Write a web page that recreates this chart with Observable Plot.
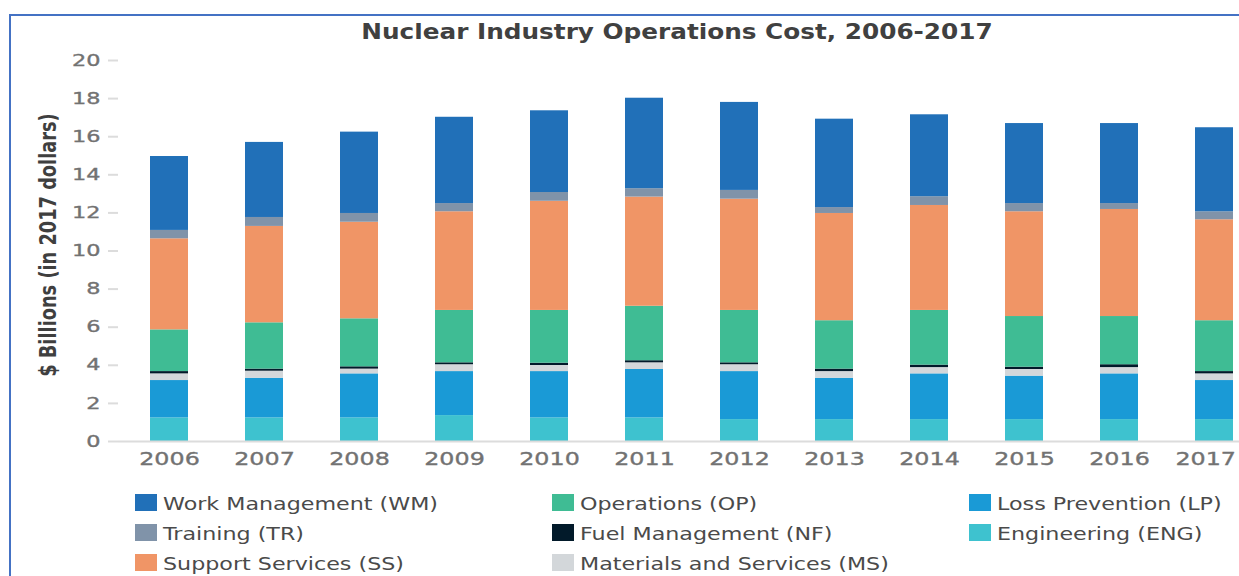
<!DOCTYPE html>
<html><head><meta charset="utf-8">
<script src="https://cdn.jsdelivr.net/npm/d3@7"></script>
<script src="https://cdn.jsdelivr.net/npm/@observablehq/plot@0.6"></script>
<style>
body{margin:0;background:#fff;}
#page{position:relative;width:1239px;height:576px;overflow:hidden;font-family:"DejaVu Sans",sans-serif;background:#fff;}
#frame{position:absolute;left:9px;top:14px;width:1300px;height:620px;border-left:2px solid #4472c4;border-top:2px solid #4472c4;}
#chart{position:absolute;left:0;top:0;}
#title{position:absolute;left:677px;top:20px;transform:translateX(-50%) scaleX(1.15);font-weight:bold;font-size:21.5px;line-height:24px;color:#404040;white-space:nowrap;}
#ytitle{position:absolute;left:48px;top:245px;transform:translate(-50%,-50%) rotate(-90deg) scaleY(1.3);font-family:"DejaVu Sans",sans-serif;font-weight:bold;font-size:17.8px;line-height:20px;color:#3f3f3f;white-space:nowrap;}
.item{position:absolute;height:17px;}
.sw{position:absolute;left:0;top:0;width:22px;height:17px;}
.lt{position:absolute;left:28px;top:0.5px;font-size:18.5px;line-height:18.5px;color:#4a4a4a;white-space:nowrap;transform:scaleX(1.2);transform-origin:left center;}
</style></head>
<body><div id="page">
<div id="frame"></div>
<div id="chart"></div>
<div id="title">Nuclear Industry Operations Cost, 2006-2017</div>
<div id="ytitle">$ Billions (in 2017 dollars)</div>
<div id="legend"></div>
</div>
<script>
const years = ["2006","2007","2008","2009","2010","2011","2012","2013","2014","2015","2016","2017"];
// stack order, bottom to top
const categories = ["Engineering (ENG)","Loss Prevention (LP)","Materials and Services (MS)","Fuel Management (NF)","Operations (OP)","Support Services (SS)","Training (TR)","Work Management (WM)"];
const colors = ["#3ec2cf","#1a9ad6","#d3d7da","#021a2a","#3fbc94","#f09566","#8093a9","#2170b8"];
const ENG = [1.24,1.24,1.24,1.36,1.24,1.24,1.15,1.15,1.15,1.15,1.15,1.15];
const LP  = [1.96,2.08,2.31,2.31,2.43,2.54,2.52,2.17,2.40,2.28,2.40,2.05];
const MS  = [0.35,0.37,0.25,0.36,0.32,0.35,0.36,0.35,0.33,0.35,0.33,0.35];
const NF  = [0.12,0.11,0.12,0.10,0.12,0.11,0.10,0.13,0.13,0.12,0.15,0.12];
const OP  = [2.19,2.43,2.52,2.75,2.77,2.86,2.75,2.54,2.87,2.66,2.53,2.67];
const SS  = [4.78,5.06,5.07,5.18,5.73,5.73,5.84,5.63,5.51,5.50,5.62,5.30];
const TR  = [0.44,0.47,0.46,0.43,0.46,0.44,0.46,0.31,0.46,0.43,0.31,0.42];
const WM  = [3.88,3.94,4.27,4.53,4.29,4.75,4.62,4.64,4.30,4.20,4.20,4.41];
const yTicks = [0,2,4,6,8,10,12,14,16,18,20];
// legend order (row-major, 3 columns)
const legendOrder = ["Work Management (WM)","Operations (OP)","Loss Prevention (LP)","Training (TR)","Fuel Management (NF)","Engineering (ENG)","Support Services (SS)","Materials and Services (MS)"];

const series = [ENG, LP, MS, NF, OP, SS, TR, WM];
const rows = [];
years.forEach((yr, i) => {
  categories.forEach((c, k) => rows.push({year: yr, category: c, value: series[k][i]}));
});

const W = 1239;
const svg = Plot.plot({
  width: W,
  height: 480,
  marginTop: 60,
  marginBottom: 39,
  marginLeft: 118,
  marginRight: 0,
  style: {background: "transparent", fontFamily: "DejaVu Sans, sans-serif"},
  x: {type: "band", domain: years, paddingInner: 0.6, paddingOuter: 0.17, align: 0.84, label: null},
  y: {domain: [0, 20], label: null},
  color: {domain: categories, range: colors},
  marks: [
    Plot.barY(rows, {x: "year", y: "value", fill: "category"}),
    Plot.ruleY([0], {stroke: "#dcdcdc", strokeWidth: 2}),
    Plot.axisY({ticks: yTicks, tickSize: 10, tickPadding: 8, line: true, stroke: "#dcdcdc", strokeWidth: 2, fill: "#727272", fontSize: 16, label: null}),
    Plot.axisX({tickSize: 0, tickPadding: 10, fill: "#727272", fontSize: 18.3, label: null})
  ]
});
document.getElementById("chart").appendChild(svg);

// widen tick labels horizontally to match the wide face of the original,
// and keep the last x label inside the picture
d3.select(svg).selectAll('g[aria-label="x-axis tick label"] text, g[aria-label="y-axis tick label"] text').each(function() {
  const t = this.getAttribute("transform") || "";
  this.style.stroke = "#727272";
  this.style.strokeWidth = "0.35px";
  const isY = this.parentNode.getAttribute("aria-label").startsWith("y");
  const s = isY ? 1.4 : 1.3;
  this.setAttribute("transform", (t + ` scale(${s},1)`).trim());
  if (!isY) {
    const r = this.getBoundingClientRect();
    const over = r.right - (W - 3);
    if (over > 0) this.setAttribute("transform", (t + ` translate(${-over},0) scale(${s},1)`).trim());
  }
});

const colX = [135, 552, 969];
const rowY = [494, 524, 554];
const leg = document.getElementById("legend");
legendOrder.forEach((name, i) => {
  const c = i % 3, r = Math.floor(i / 3);
  const item = document.createElement("div");
  item.className = "item";
  item.style.left = colX[c] + "px";
  item.style.top = rowY[r] + "px";
  const sw = document.createElement("div");
  sw.className = "sw";
  sw.style.background = colors[categories.indexOf(name)];
  const lt = document.createElement("div");
  lt.className = "lt";
  lt.textContent = name;
  item.appendChild(sw); item.appendChild(lt);
  leg.appendChild(item);
});
</script>
</body></html>
